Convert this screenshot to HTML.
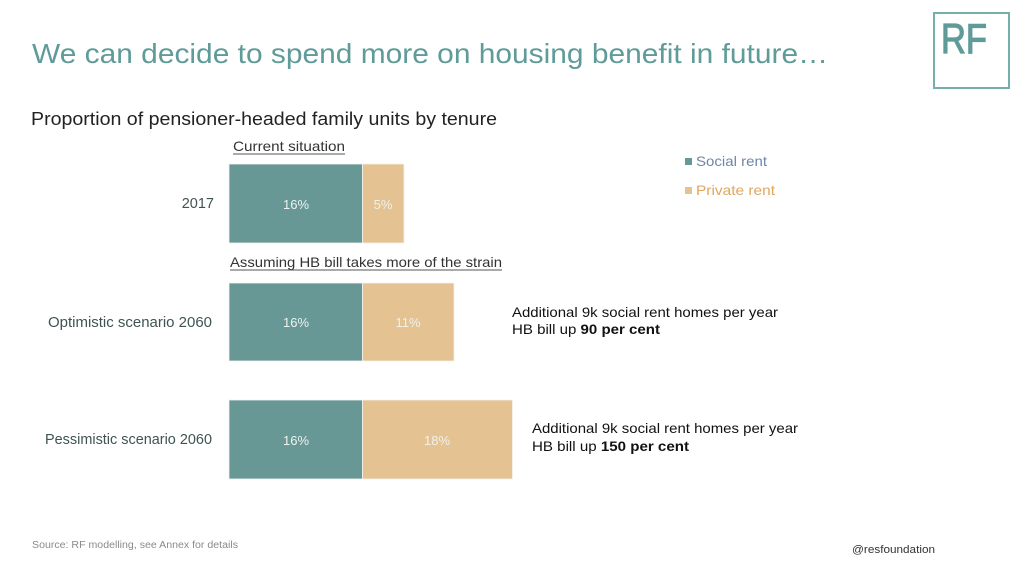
<!DOCTYPE html>
<html>
<head>
<meta charset="utf-8">
<style>
html,body{margin:0;padding:0;background:#fff;}
svg{display:block;}
text{font-family:"Liberation Sans",sans-serif;}
</style>
</head>
<body>
<svg width="1024" height="576" viewBox="0 0 1024 576" xmlns="http://www.w3.org/2000/svg">
  <rect width="1024" height="576" fill="#fff"/>
  <!-- Title -->
  <text x="32" y="63" font-size="28" fill="#5f9b98" textLength="796" lengthAdjust="spacingAndGlyphs">We can decide to spend more on housing benefit in future…</text>
  <!-- Logo -->
  <rect x="934" y="13" width="75" height="75" fill="none" stroke="#76aeab" stroke-width="2"/>
  <text x="941" y="53" font-size="42" fill="#5f9b98" stroke="#5f9b98" stroke-width="1.2" textLength="46" lengthAdjust="spacingAndGlyphs">RF</text>
  <!-- Subtitle -->
  <text x="31" y="125" font-size="18" fill="#222" textLength="466" lengthAdjust="spacingAndGlyphs">Proportion of pensioner-headed family units by tenure</text>

  <!-- Section labels -->
  <text x="233" y="151" font-size="14" fill="#333" textLength="112" lengthAdjust="spacingAndGlyphs">Current situation</text>
  <line x1="233" y1="154" x2="345" y2="154" stroke="#555" stroke-width="1"/>
  <text x="230" y="267" font-size="14" fill="#333" textLength="272" lengthAdjust="spacingAndGlyphs">Assuming HB bill takes more of the strain</text>
  <line x1="230" y1="270" x2="502" y2="270" stroke="#555" stroke-width="1"/>

  <!-- Category labels -->
  <text x="214" y="208" font-size="14.5" fill="#3f5452" text-anchor="end">2017</text>
  <text x="48" y="327" font-size="14.5" fill="#3f5452" textLength="164" lengthAdjust="spacingAndGlyphs">Optimistic scenario 2060</text>
  <text x="45" y="444" font-size="14.5" fill="#3f5452" textLength="167" lengthAdjust="spacingAndGlyphs">Pessimistic scenario 2060</text>

  <!-- Bars -->
  <g stroke="#f4f4f0" stroke-width="0.8">
    <rect x="229" y="164" width="133.5" height="79" fill="#689896"/>
    <rect x="362.5" y="164" width="41.5" height="79" fill="#e4c291"/>
    <rect x="229" y="283" width="133.5" height="78" fill="#689896"/>
    <rect x="362.5" y="283" width="91.5" height="78" fill="#e4c291"/>
    <rect x="229" y="400" width="133.5" height="79" fill="#689896"/>
    <rect x="362.5" y="400" width="150" height="79" fill="#e4c291"/>
  </g>
  <g font-size="13" fill="#eef2ee" text-anchor="middle">
    <text x="296" y="209">16%</text>
    <text x="383" y="209">5%</text>
    <text x="296" y="327">16%</text>
    <text x="408" y="327">11%</text>
    <text x="296" y="445">16%</text>
    <text x="437" y="445">18%</text>
  </g>

  <!-- Legend -->
  <rect x="685" y="158" width="7" height="7" fill="#689896"/>
  <text x="696" y="166" font-size="14" fill="#6f86a6" textLength="71" lengthAdjust="spacingAndGlyphs">Social rent</text>
  <rect x="685" y="187" width="7" height="7" fill="#e4c291"/>
  <text x="696" y="195" font-size="14" fill="#e0a65e" textLength="79" lengthAdjust="spacingAndGlyphs">Private rent</text>

  <!-- Annotations -->
  <text x="512" y="317" font-size="14" fill="#111" textLength="266" lengthAdjust="spacingAndGlyphs">Additional 9k social rent homes per year</text>
  <text x="512" y="334" font-size="14" fill="#111" textLength="148" lengthAdjust="spacingAndGlyphs">HB bill up <tspan font-weight="bold">90 per cent</tspan></text>
  <text x="532" y="433" font-size="14" fill="#111" textLength="266" lengthAdjust="spacingAndGlyphs">Additional 9k social rent homes per year</text>
  <text x="532" y="451" font-size="14" fill="#111" textLength="157" lengthAdjust="spacingAndGlyphs">HB bill up <tspan font-weight="bold">150 per cent</tspan></text>

  <!-- Footer -->
  <text x="32" y="548" font-size="10" fill="#8a8a8a" textLength="206" lengthAdjust="spacingAndGlyphs">Source: RF modelling, see Annex for details</text>
  <text x="852" y="553" font-size="11" fill="#333" textLength="83" lengthAdjust="spacingAndGlyphs">@resfoundation</text>
</svg>
</body>
</html>
